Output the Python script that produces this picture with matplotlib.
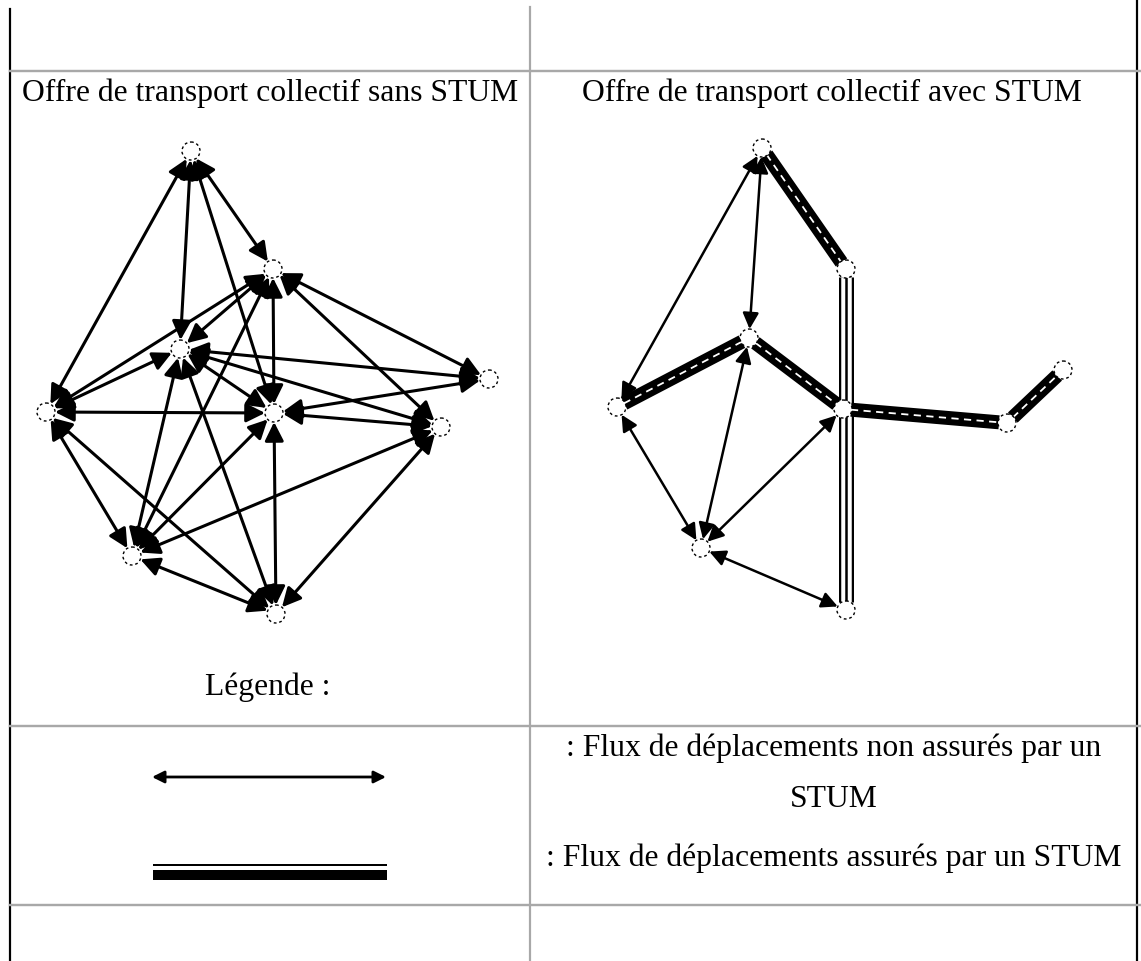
import matplotlib
matplotlib.use("Agg")
import matplotlib.pyplot as plt
from matplotlib.patches import Circle

plt.rcParams['font.family'] = ['Liberation Serif', 'DejaVu Serif']

# table grid (pixel positions of the scanned table)
col_x = [10, 530, 1137]
row_y = [72, 727, 906]

titles = ["Offre de transport collectif sans STUM",
          "Offre de transport collectif avec STUM"]
legend_title = "Légende :"
legend_lines = [": Flux de déplacements non assurés par un",
                "STUM",
                ": Flux de déplacements assurés par un STUM"]

# left network: without STUM
left_nodes = {
    "top": (191, 152), "a": (273, 270), "cl": (180, 350),
    "left": (46, 413), "ctr": (274, 414), "right": (489, 380),
    "rl": (441, 428), "bl": (132, 557), "bot": (276, 615),
}
left_edges = [
    ("top", "left"), ("top", "cl"), ("top", "a"), ("top", "ctr"),
    ("a", "left"), ("a", "cl"), ("a", "ctr"), ("a", "right"),
    ("a", "rl"), ("a", "bl"), ("cl", "left"), ("cl", "right"),
    ("cl", "rl"), ("cl", "ctr"), ("cl", "bl"), ("cl", "bot"),
    ("left", "ctr"), ("left", "bl"), ("left", "bot"), ("ctr", "right"),
    ("ctr", "rl"), ("ctr", "bl"), ("ctr", "bot"), ("rl", "bl"),
    ("rl", "bot"), ("bl", "bot"),
]

# right network: with STUM
right_nodes = {
    "T": (762, 149), "B": (846, 270), "H": (749, 339), "D": (843, 410),
    "L": (617, 408), "R1": (1007, 424), "R2": (1063, 371),
    "BL": (701, 549), "Bt": (846, 611),
}
right_thin = [("T", "L"), ("T", "H"), ("H", "BL"), ("D", "BL"),
              ("L", "BL"), ("BL", "Bt")]
right_stum = [("T", "B"), ("H", "L"), ("H", "D"), ("D", "R1"), ("R1", "R2")]
right_rail = [("B", "Bt")]


def px(v):
    # pixels -> points at 100 dpi
    return v * 72 / 100


def arrow(ax, p1, p2, lw=1.8, head=13, shrink=9):
    ax.annotate("", xy=p2, xytext=p1,
                arrowprops=dict(arrowstyle="<|-|>,head_length=0.6,head_width=0.3",
                                color="black", lw=lw, mutation_scale=head,
                                shrinkA=px(shrink), shrinkB=px(shrink)))


def trim(p1, p2, r):
    dx, dy = p2[0] - p1[0], p2[1] - p1[1]
    d = (dx * dx + dy * dy) ** 0.5
    ux, uy = dx / d, dy / d
    return (p1[0] + ux * r, p1[1] + uy * r), (p2[0] - ux * r, p2[1] - uy * r)


def stum(ax, p1, p2, r=8):
    a, b = trim(p1, p2, r)
    xs, ys = [a[0], b[0]], [a[1], b[1]]
    ax.plot(xs, ys, color="black", lw=px(14), solid_capstyle="butt")
    ax.plot(xs, ys, color="white", lw=px(1.8), ls=(0, (4, 3)), solid_capstyle="butt")


def rail(ax, p1, p2, r=8):
    a, b = trim(p1, p2, r)
    xs, ys = [a[0], b[0]], [a[1], b[1]]
    ax.plot(xs, ys, color="black", lw=px(15), solid_capstyle="butt")
    ax.plot(xs, ys, color="white", lw=px(10.5), solid_capstyle="butt")
    ax.plot(xs, ys, color="black", lw=px(2.5), solid_capstyle="butt")


def node(ax, p, r=9):
    ax.add_patch(Circle(p, r, facecolor="white", edgecolor="black",
                        lw=1.0, ls=(0, (2, 2)), zorder=5))


fig = plt.figure(figsize=(11.41, 9.62), dpi=100)
ax = fig.add_axes([0, 0, 1, 1])
ax.set_xlim(0, 1141)
ax.set_ylim(962, 0)
ax.axis("off")

# table lines
ax.plot([col_x[0], col_x[0]], [10, 962], color="black", lw=px(2.2))
ax.plot([col_x[1], col_x[1]], [8, 962], color="#a8a8a8", lw=px(2.2))
ax.plot([col_x[2], col_x[2]], [0, 962], color="black", lw=px(2.2))
for y in row_y:
    ax.plot([col_x[0], 1141], [y, y], color="#a8a8a8", lw=px(2.4))

fs = 22.8

# titles
ax.text(270, 93, titles[0], ha="center", va="center", fontsize=fs)
ax.text(832, 93, titles[1], ha="center", va="center", fontsize=fs)

# left graph
for u, v in left_edges:
    arrow(ax, left_nodes[u], left_nodes[v], lw=2.2, head=19)
for p in left_nodes.values():
    node(ax, p)

# right graph
for u, v in right_rail:
    rail(ax, right_nodes[u], right_nodes[v])
for u, v in right_stum:
    stum(ax, right_nodes[u], right_nodes[v])
for u, v in right_thin:
    arrow(ax, right_nodes[u], right_nodes[v], lw=1.8, head=16)
for p in right_nodes.values():
    node(ax, p)

# legend
ax.text(268, 687, legend_title, ha="center", va="center", fontsize=fs)
arrow(ax, (152, 778), (386, 778), lw=2.0, head=12, shrink=0)
ax.plot([153, 387], [866, 866], color="black", lw=px(2), solid_capstyle="butt")
ax.plot([153, 387], [876, 876], color="black", lw=px(10), solid_capstyle="butt")
ax.text(834, 748, legend_lines[0], ha="center", va="center", fontsize=fs)
ax.text(834, 800, legend_lines[1], ha="center", va="center", fontsize=fs)
ax.text(834, 858, legend_lines[2], ha="center", va="center", fontsize=fs)

fig.savefig("out.png", dpi=100)
